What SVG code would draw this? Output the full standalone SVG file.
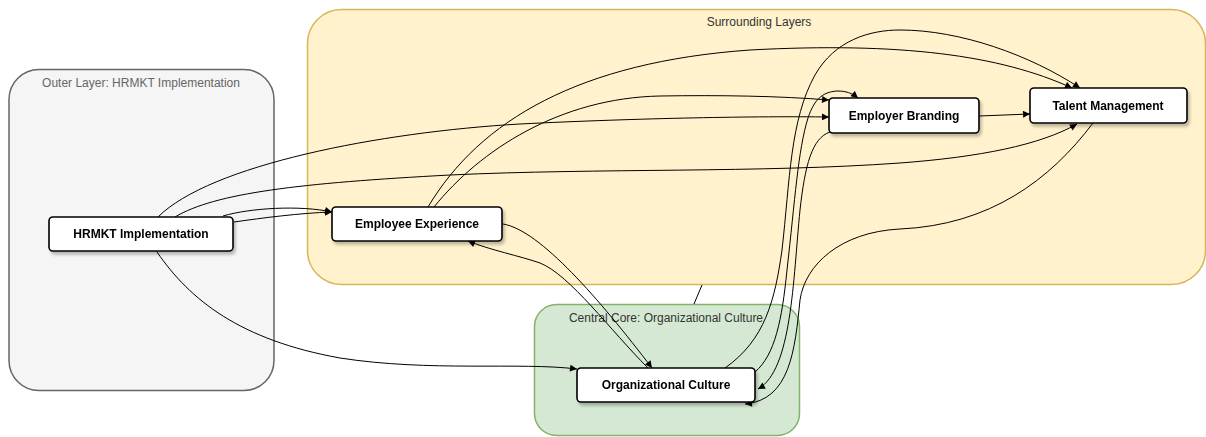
<svg xmlns="http://www.w3.org/2000/svg" width="1206" height="437" viewBox="0 0 1206 437">
  <style>
    .layer-label { font-family: "Liberation Sans", Arial, sans-serif; font-size: 12px; text-anchor: middle; }
    .node rect { fill: #ffffff; stroke: #000000; stroke-width: 1.6; }
    .node text { font-family: "Liberation Sans", Arial, sans-serif; font-size: 12px; font-weight: bold; text-anchor: middle; fill: #000000; }
    .edge { fill: none; stroke: #000000; stroke-width: 1; marker-end: url(#arrow); }
    .plain { fill: none; stroke: #000000; stroke-width: 1; }
  </style>
  <defs>
    <marker id="arrow" viewBox="0 0 10 10" refX="10" refY="5" markerWidth="8" markerHeight="7" markerUnits="userSpaceOnUse" orient="auto">
      <path d="M0,0 L10,5 L0,10 z" fill="#000000"/>
    </marker>
    <filter id="shadow" x="-10%" y="-20%" width="130%" height="160%">
      <feDropShadow dx="2" dy="3" stdDeviation="1.5" flood-color="#000000" flood-opacity="0.25"/>
    </filter>
  </defs>

  <rect width="1206" height="437" fill="#ffffff"/>

  <!-- layers -->
  <g id="outer-layer">
    <rect x="9" y="69.5" width="265" height="321" rx="30" ry="30" fill="#f5f5f5" stroke="#666666" stroke-width="1.5"/>
    <text class="layer-label" x="141" y="87" fill="#666666">Outer Layer: HRMKT Implementation</text>
  </g>
  <g id="surrounding-layers">
    <rect x="307.5" y="9.5" width="898" height="275" rx="34" ry="34" fill="#fff2cc" stroke="#d6b656" stroke-width="1.5"/>
    <text class="layer-label" x="759" y="26" fill="#333333">Surrounding Layers</text>
  </g>
  <g id="central-core">
    <rect x="534.5" y="304.5" width="265" height="131" rx="22" ry="22" fill="#d5e8d4" stroke="#82b366" stroke-width="1.5"/>
    <text class="layer-label" x="666" y="322" fill="#333333">Central Core: Organizational Culture</text>
  </g>

  <!-- connectors -->
  <g id="connectors">
    <path class="plain" d="M702,285 L694,304"/>
    <!-- HRMKT Implementation -> Employee Experience (two links) -->
    <path class="edge" d="M223,216 C250,208 300,205 332,212"/>
    <path class="edge" d="M234,222 C262,218 300,213 332,212"/>
    <!-- HRMKT Implementation -> Employer Branding -->
    <path class="edge" d="M158,217 C210,165 380,132 520,124 C640,118 760,116 829,117"/>
    <!-- HRMKT Implementation -> Talent Management -->
    <path class="edge" d="M175,217 C215,193 300,183 450,175 C600,168 760,173 900,163 C980,157 1040,145 1077,124"/>
    <!-- HRMKT Implementation -> Organizational Culture -->
    <path class="edge" d="M157,252 C190,300 240,340 340,358 C430,372 520,362 577,369"/>
    <!-- Employee Experience -> Talent Management -->
    <path class="edge" d="M428,207 C480,120 580,62 750,50 C900,42 1000,55 1072,88"/>
    <!-- Employee Experience -> Employer Branding -->
    <path class="edge" d="M434,207 C480,150 560,98 660,96 C720,95 780,96 829,100"/>
    <!-- Employee Experience -> Organizational Culture -->
    <path class="edge" d="M503,224 C540,230 600,300 652,368"/>
    <!-- Organizational Culture -> Employee Experience -->
    <path class="edge" d="M648,368 C610,330 570,275 540,263 C520,256 490,250 468,241"/>
    <!-- Organizational Culture -> Talent Management -->
    <path class="edge" d="M725,368 C765,340 775,300 782,250 C790,180 790,120 815,75 C835,40 870,30 900,30 C960,30 1030,55 1080,88"/>
    <!-- Organizational Culture -> Employer Branding -->
    <path class="edge" d="M755,372 C775,355 782,320 787,270 C795,200 798,150 808,118 C814,100 822,92 837,91 C846,91 852,93 858,98"/>
    <!-- Employer Branding -> Organizational Culture -->
    <path class="edge" d="M830,132 C812,138 805,165 800,210 C793,280 792,370 758,389"/>
    <!-- Employer Branding -> Talent Management -->
    <path class="edge" d="M979,116 L1030,114"/>
    <!-- Talent Management -> Organizational Culture -->
    <path class="edge" d="M1093,123 C1050,180 990,225 900,229 C840,232 805,265 800,300 C795,350 790,400 745,404"/>
  </g>

  <!-- nodes -->
  <g id="hrmkt-implementation" class="node" filter="url(#shadow)">
    <rect x="49" y="217" width="184" height="34" rx="4" ry="4"/>
    <text x="141" y="238">HRMKT Implementation</text>
  </g>
  <g id="employee-experience" class="node" filter="url(#shadow)">
    <rect x="332" y="207" width="170" height="34" rx="4" ry="4"/>
    <text x="417" y="228">Employee Experience</text>
  </g>
  <g id="employer-branding" class="node" filter="url(#shadow)">
    <rect x="829" y="98" width="150" height="35" rx="4" ry="4"/>
    <text x="904" y="120">Employer Branding</text>
  </g>
  <g id="talent-management" class="node" filter="url(#shadow)">
    <rect x="1030" y="88" width="157" height="35" rx="4" ry="4"/>
    <text x="1108" y="110">Talent Management</text>
  </g>
  <g id="organizational-culture" class="node" filter="url(#shadow)">
    <rect x="577" y="368" width="178" height="34" rx="4" ry="4"/>
    <text x="666" y="389">Organizational Culture</text>
  </g>
</svg>
